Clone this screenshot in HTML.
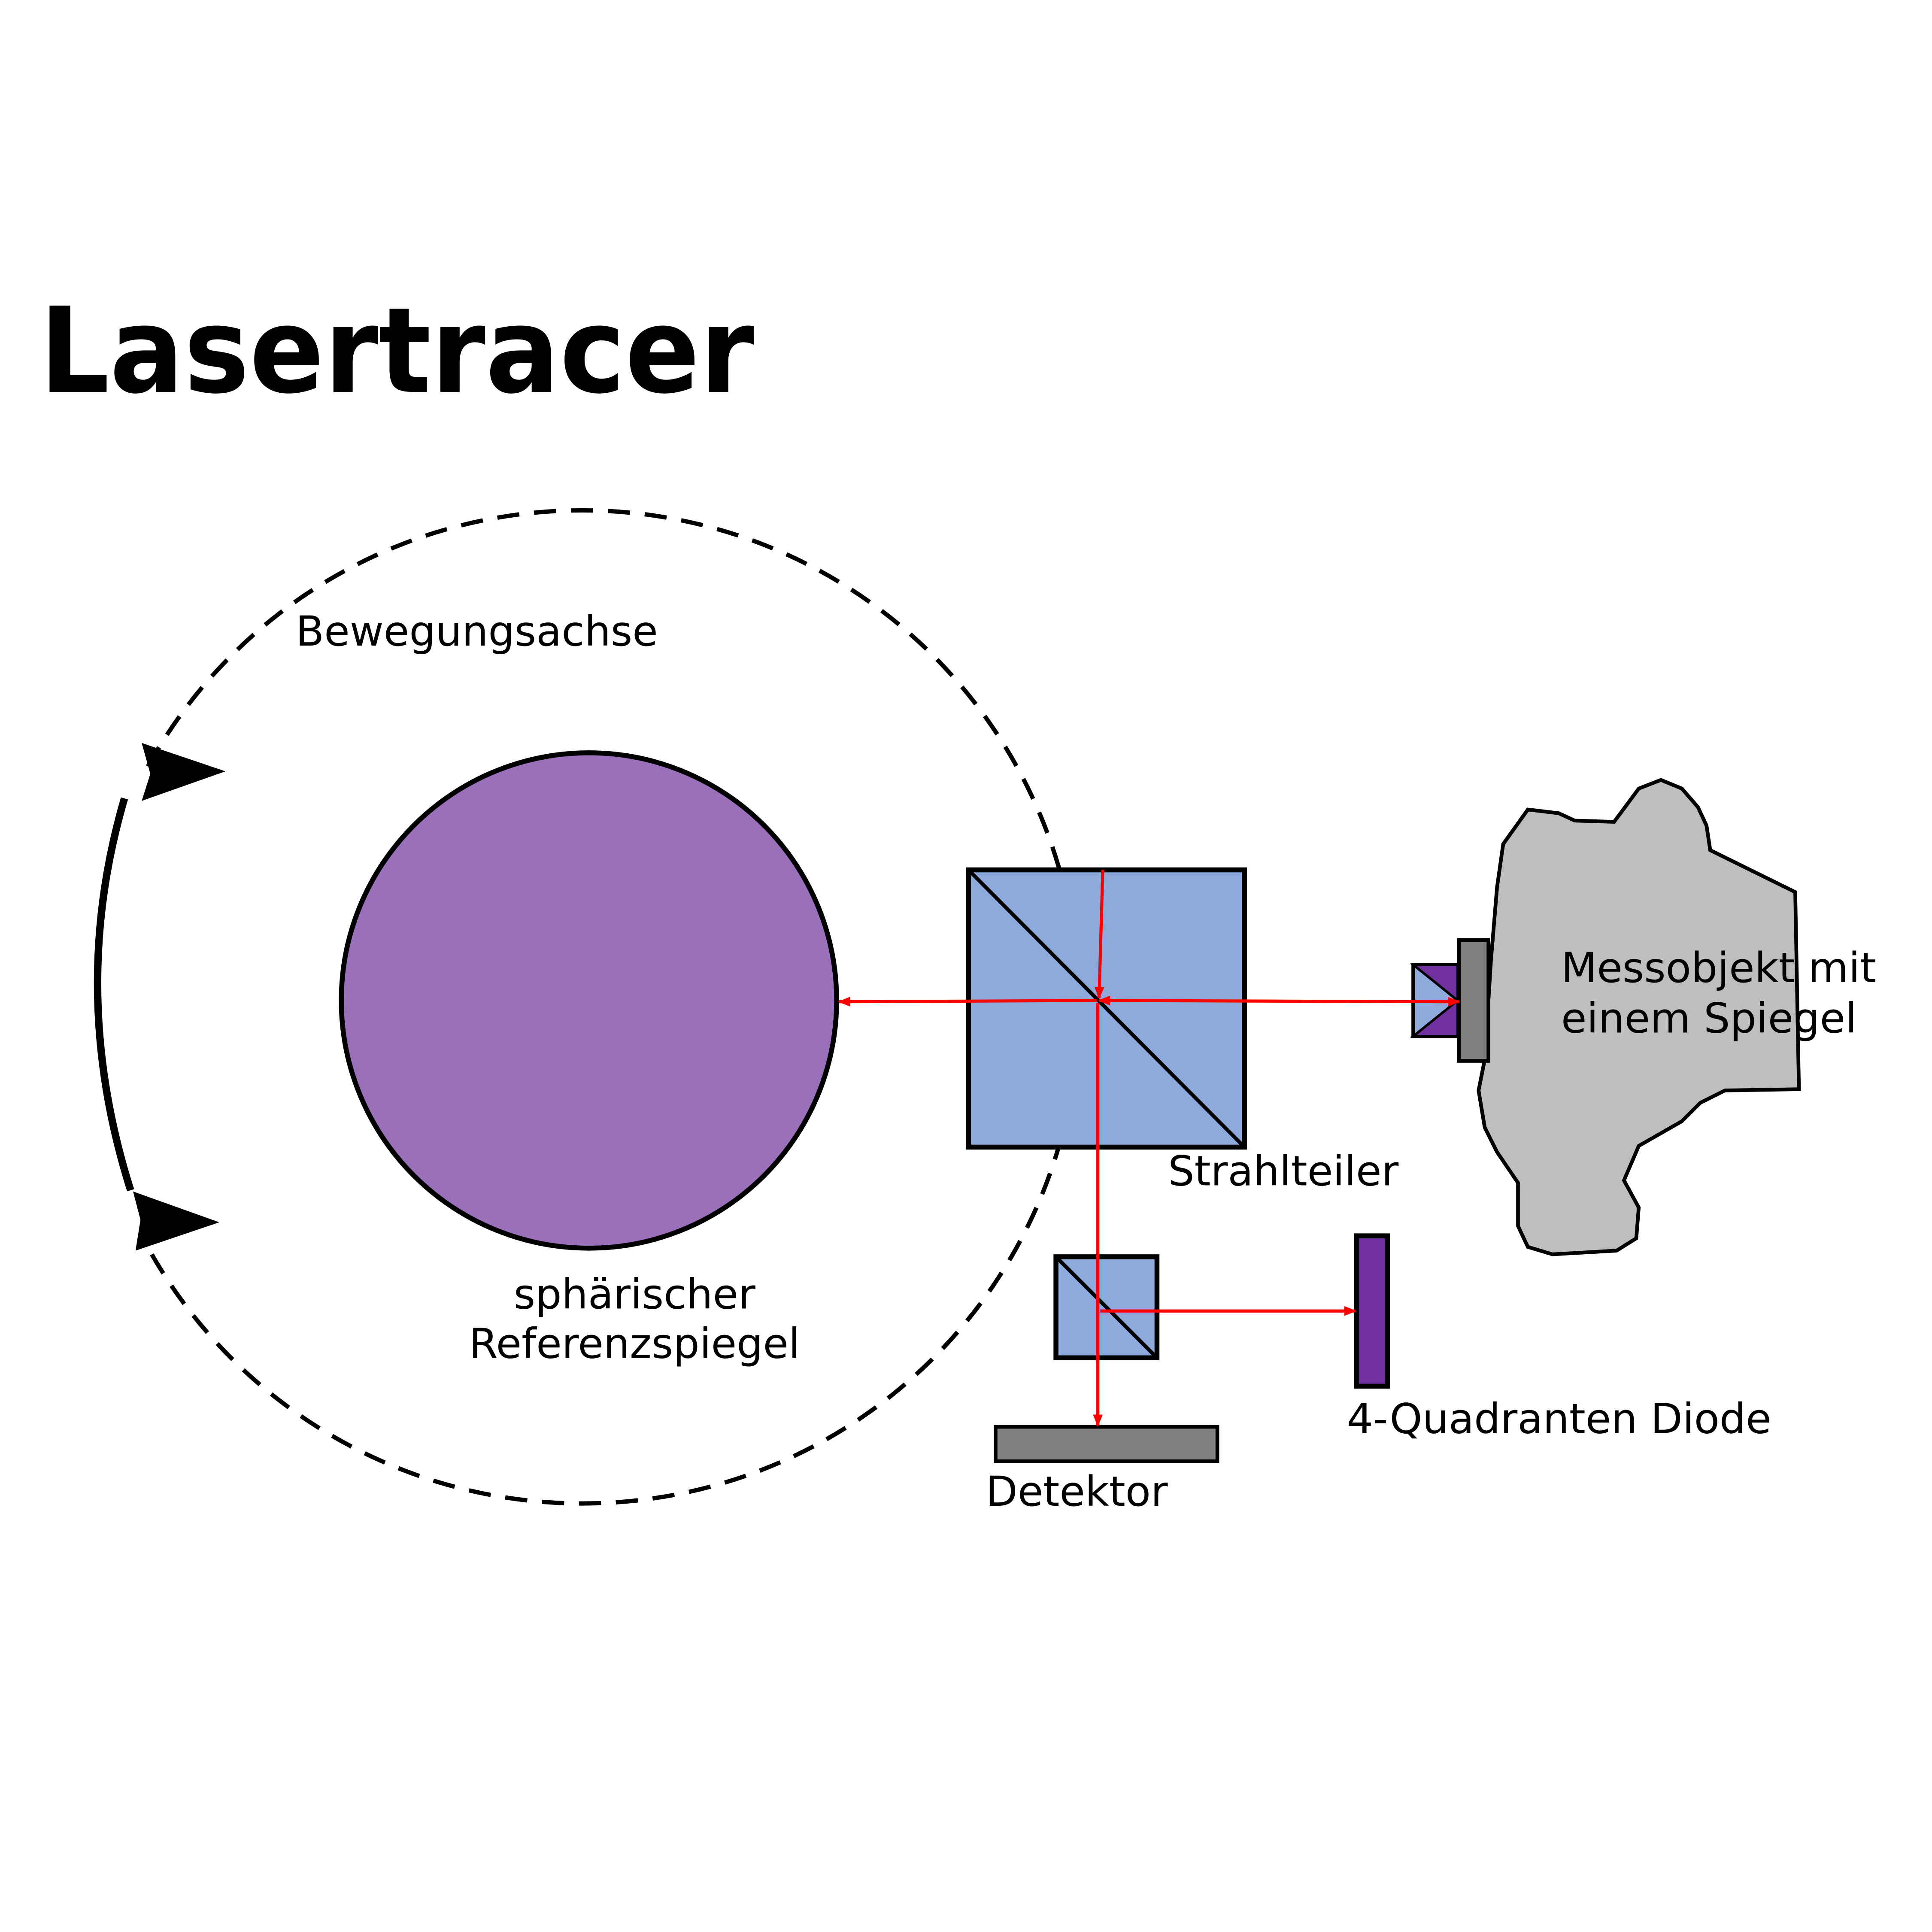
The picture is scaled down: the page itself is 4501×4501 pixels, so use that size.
<!DOCTYPE html>
<html><head><meta charset="utf-8"><style>html,body{margin:0;padding:0;background:#fff}svg{display:block}text{font-family:"DejaVu Sans","Liberation Sans",sans-serif}</style></head>
<body>
<svg width="4501" height="4501" viewBox="0 0 1568 1568" xmlns="http://www.w3.org/2000/svg">
<defs>
<marker id="ah" markerWidth="10" markerHeight="8" refX="9" refY="4" orient="auto-start-reverse" markerUnits="userSpaceOnUse"><path d="M0,0 L10,4 L0,8 Z" fill="#f00"/></marker>
</defs>
<rect width="1568" height="1568" fill="#fff"/>
<text x="32" y="318" font-size="96" font-weight="bold" textLength="580" lengthAdjust="spacingAndGlyphs">Lasertracer</text>
<path d="M120,622 A403,403 0 1 1 116,1005" fill="none" stroke="#000" stroke-width="3.5" stroke-dasharray="18,12"/>
<path d="M101,648 Q55,805 106,966" fill="none" stroke="#000" stroke-width="6"/>
<polygon points="115,603 183,626 115,650 122,628" fill="#000"/>
<polygon points="108,967 178,992 110,1015 114,990" fill="#000"/>
<text x="240" y="524" font-size="33.7">Bewegungsachse</text>
<circle cx="478" cy="812" r="201" fill="#9b70bb" stroke="#000" stroke-width="4"/>
<text x="515" y="1062" font-size="33.7" text-anchor="middle">sphärischer</text>
<text x="515" y="1102" font-size="33.7" text-anchor="middle">Referenzspiegel</text>
<rect x="786" y="706" width="224" height="225" fill="#8ea9db" stroke="#000" stroke-width="4"/>
<line x1="786" y1="706" x2="1010" y2="931" stroke="#000" stroke-width="3"/>
<text x="948" y="962" font-size="33.7">Strahlteiler</text>
<path d="M1240,657 L1265,660 L1278,666 L1310,667 L1330,640 L1348,633 L1365,640 L1378,655 L1385,670 L1388,690 L1457,724 L1460,884 L1400,885 L1380,895 L1365,910 L1330,930 L1318,958 L1330,980 L1328,1005 L1312,1015 L1260,1018 L1240,1012 L1232,995 L1232,960 L1215,935 L1205,915 L1200,885 L1205,860 L1210,780 L1215,720 L1220,685 Z" fill="#bebebe" stroke="#000" stroke-width="3"/>
<rect x="1184" y="763" width="24" height="98" fill="#808080" stroke="#000" stroke-width="3"/>
<rect x="1147" y="783" width="36" height="58" fill="#8ea9db" stroke="#000" stroke-width="3"/>
<polygon points="1147,783 1183,783 1183,812" fill="#7030a0" stroke="#000" stroke-width="2"/>
<polygon points="1147,841 1183,841 1183,812" fill="#7030a0" stroke="#000" stroke-width="2"/>
<text x="1267" y="797" font-size="33.7">Messobjekt mit</text>
<text x="1267" y="838" font-size="33.7">einem Spiegel</text>
<rect x="857" y="1020" width="82" height="82" fill="#8ea9db" stroke="#000" stroke-width="4"/>
<line x1="857" y1="1020" x2="939" y2="1102" stroke="#000" stroke-width="3"/>
<rect x="1101" y="1003" width="25" height="122" fill="#7030a0" stroke="#000" stroke-width="4"/>
<text x="1093" y="1163" font-size="33.7">4-Quadranten Diode</text>
<rect x="808" y="1158" width="180" height="28" fill="#808080" stroke="#000" stroke-width="3"/>
<text x="800" y="1222" font-size="33.7">Detektor</text>
<g stroke="#f00" stroke-width="2.5" fill="none">
<line x1="890" y1="812" x2="681" y2="813" marker-end="url(#ah)"/>
<line x1="892" y1="812" x2="1184" y2="813" marker-end="url(#ah)" marker-start="url(#ah)"/>
<line x1="895" y1="706" x2="892" y2="810" marker-end="url(#ah)"/>
<line x1="891" y1="814" x2="891" y2="1157" marker-end="url(#ah)"/>
<line x1="893" y1="1064" x2="1100" y2="1064" marker-end="url(#ah)"/>
</g>
</svg>
</body></html>
